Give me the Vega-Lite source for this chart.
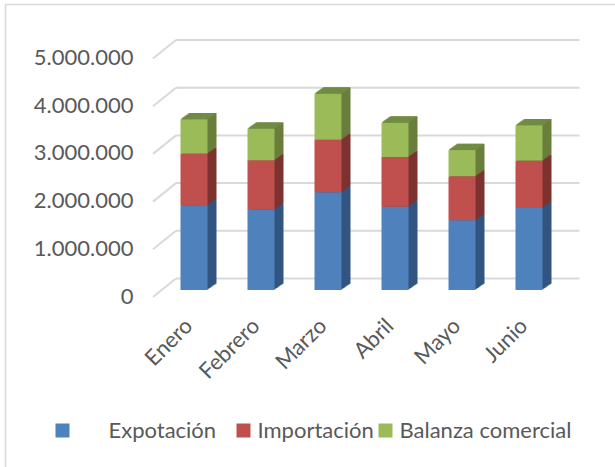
{"$schema":"https://vega.github.io/schema/vega-lite/v6.json","width":402,"height":238.5,"autosize":"none","padding":{"left":160.5,"top":51.5,"right":52.5,"bottom":177},"background":"white","config":{"view":{"stroke":null},"font":"Lato"},
"data":{"values":[
{"mes":"Enero","serie":"Expotación","orden":1,"valor":1775000},{"mes":"Enero","serie":"Importación","orden":2,"valor":1083000},{"mes":"Enero","serie":"Balanza comercial","orden":3,"valor":720000},
{"mes":"Febrero","serie":"Expotación","orden":1,"valor":1684000},{"mes":"Febrero","serie":"Importación","orden":2,"valor":1034000},{"mes":"Febrero","serie":"Balanza comercial","orden":3,"valor":664000},
{"mes":"Marzo","serie":"Expotación","orden":1,"valor":2048000},{"mes":"Marzo","serie":"Importación","orden":2,"valor":1104000},{"mes":"Marzo","serie":"Balanza comercial","orden":3,"valor":964000},
{"mes":"Abril","serie":"Expotación","orden":1,"valor":1747000},{"mes":"Abril","serie":"Importación","orden":2,"valor":1041000},{"mes":"Abril","serie":"Balanza comercial","orden":3,"valor":720000},
{"mes":"Mayo","serie":"Expotación","orden":1,"valor":1460000},{"mes":"Mayo","serie":"Importación","orden":2,"valor":922000},{"mes":"Mayo","serie":"Balanza comercial","orden":3,"valor":552000},
{"mes":"Junio","serie":"Expotación","orden":1,"valor":1719000},{"mes":"Junio","serie":"Importación","orden":2,"valor":992000},{"mes":"Junio","serie":"Balanza comercial","orden":3,"valor":741000}
]},
"transform":[{"stack":"valor","groupby":["mes"],"sort":[{"field":"orden","order":"ascending"}],"as":["base","cima"]},{"calculate":"datum.serie + ' lado'","as":"lado"},{"calculate":"datum.orden==1 ? '\u2800\u2800'+datum.serie+'\u2800' : datum.serie","as":"etiqueta"}],
"encoding":{
"x":{"field":"mes","type":"nominal","sort":["Enero","Febrero","Marzo","Abril","Mayo","Junio"],"scale":{"paddingInner":0.597,"paddingOuter":0.2985},"axis":{"title":null,"domain":false,"ticks":false,"labelAngle":-45,"labelAlign":"right","labelBaseline":"middle","labelFontSize":22,"labelColor":"#595959","labelPadding":32,"labelOffset":-5}},
"y":{"field":"base","type":"quantitative","scale":{"domain":[0,5000000],"nice":false},"axis":{"title":null,"domain":false,"ticks":false,"grid":false,"values":[0,1000000,2000000,3000000,4000000,5000000],"labelExpr":"replace(format(datum.value,','),/,/g,'.')","labelFontSize":22,"labelColor":"#595959","labelPadding":27.5,"labelOffset":6}},
"y2":{"field":"cima"}
},
"layer":[
{"data":{"values":[{"t":0}]},"transform":[],"mark":{"type":"rule","color":"#d9d9d9","strokeWidth":1.5},"encoding":{"x":{"value":-155.5},"x2":{"value":454.5},"y":{"value":-47},"y2":{"value":-47}}},
{"data":{"values":[{"t":0}]},"transform":[],"mark":{"type":"rule","color":"#d9d9d9","strokeWidth":1.5},"encoding":{"x":{"value":-155},"x2":{"value":-155},"y":{"value":-47},"y2":{"value":415.5}}},
{"data":{"values":[{"t":0},{"t":1000000},{"t":2000000},{"t":3000000},{"t":4000000},{"t":5000000}]},"transform":[],"mark":{"type":"rule","color":"#d9d9d9","strokeWidth":2,"yOffset":-11.5,"y2Offset":-11.5,"xOffset":15.5,"x2Offset":17},"encoding":{"x":{"value":0},"x2":{"value":402},"y":{"field":"t","type":"quantitative"},"y2":{"field":"t"}}},
{"data":{"values":[{"t":0},{"t":1000000},{"t":2000000},{"t":3000000},{"t":4000000},{"t":5000000}]},"transform":[],"mark":{"type":"rule","color":"#d9d9d9","strokeWidth":2,"yOffset":7,"y2Offset":-11.5,"xOffset":-7.5,"x2Offset":15.5},"encoding":{"x":{"value":0},"x2":{"value":0},"y":{"field":"t","type":"quantitative"},"y2":{"field":"t"}}},
{"mark":{"type":"bar","xOffset":9,"yOffset":-6.3,"y2Offset":-6.3},"encoding":{"color":{"field":"lado","scale":{"domain":["\u2800\u2800Expotación\u2800","Importación","Balanza comercial","Expotación lado","Importación lado","Balanza comercial lado"],"range":["#4f81bd","#c0504d","#9bbb59","#325580","#7f3331","#687f3b"]},"legend":{"values":["\u2800\u2800Expotación\u2800","Importación","Balanza comercial"],"title":null,"orient":"none","legendX":-109,"legendY":368,"direction":"horizontal","columns":3,"gridAlign":"none","columnPadding":0,"symbolType":"square","symbolSize":196,"symbolStrokeWidth":0,"symbolOpacity":1,"labelFontSize":22,"labelColor":"#595959","labelLimit":300,"labelOffset":3}}}},
{"mark":{"type":"bar","xOffset":8,"yOffset":-5.6,"y2Offset":-5.6},"encoding":{"color":{"field":"lado"}}},
{"mark":{"type":"bar","xOffset":7,"yOffset":-4.9,"y2Offset":-4.9},"encoding":{"color":{"field":"lado"}}},
{"mark":{"type":"bar","xOffset":6,"yOffset":-4.2,"y2Offset":-4.2},"encoding":{"color":{"field":"lado"}}},
{"mark":{"type":"bar","xOffset":5,"yOffset":-3.5,"y2Offset":-3.5},"encoding":{"color":{"field":"lado"}}},
{"mark":{"type":"bar","xOffset":4,"yOffset":-2.8,"y2Offset":-2.8},"encoding":{"color":{"field":"lado"}}},
{"mark":{"type":"bar","xOffset":3,"yOffset":-2.1,"y2Offset":-2.1},"encoding":{"color":{"field":"lado"}}},
{"mark":{"type":"bar","xOffset":2,"yOffset":-1.4,"y2Offset":-1.4},"encoding":{"color":{"field":"lado"}}},
{"mark":{"type":"bar","xOffset":1,"yOffset":-0.7,"y2Offset":-0.7},"encoding":{"color":{"field":"lado"}}},
{"transform":[{"filter":"datum.orden==3"}],"mark":{"type":"tick","size":27,"thickness":1.4,"color":"#748f44","xOffset":1,"yOffset":-0.7},"encoding":{"y":{"field":"cima","type":"quantitative"},"y2":null}},
{"transform":[{"filter":"datum.orden==3"}],"mark":{"type":"tick","size":27,"thickness":1.4,"color":"#748f44","xOffset":2,"yOffset":-1.4},"encoding":{"y":{"field":"cima","type":"quantitative"},"y2":null}},
{"transform":[{"filter":"datum.orden==3"}],"mark":{"type":"tick","size":27,"thickness":1.4,"color":"#748f44","xOffset":3,"yOffset":-2.1},"encoding":{"y":{"field":"cima","type":"quantitative"},"y2":null}},
{"transform":[{"filter":"datum.orden==3"}],"mark":{"type":"tick","size":27,"thickness":1.4,"color":"#748f44","xOffset":4,"yOffset":-2.8},"encoding":{"y":{"field":"cima","type":"quantitative"},"y2":null}},
{"transform":[{"filter":"datum.orden==3"}],"mark":{"type":"tick","size":27,"thickness":1.4,"color":"#748f44","xOffset":5,"yOffset":-3.5},"encoding":{"y":{"field":"cima","type":"quantitative"},"y2":null}},
{"transform":[{"filter":"datum.orden==3"}],"mark":{"type":"tick","size":27,"thickness":1.4,"color":"#748f44","xOffset":6,"yOffset":-4.2},"encoding":{"y":{"field":"cima","type":"quantitative"},"y2":null}},
{"transform":[{"filter":"datum.orden==3"}],"mark":{"type":"tick","size":27,"thickness":1.4,"color":"#748f44","xOffset":7,"yOffset":-4.9},"encoding":{"y":{"field":"cima","type":"quantitative"},"y2":null}},
{"transform":[{"filter":"datum.orden==3"}],"mark":{"type":"tick","size":27,"thickness":1.4,"color":"#748f44","xOffset":8,"yOffset":-5.6},"encoding":{"y":{"field":"cima","type":"quantitative"},"y2":null}},
{"mark":{"type":"bar"},"encoding":{"color":{"field":"etiqueta"}}}
]
}
